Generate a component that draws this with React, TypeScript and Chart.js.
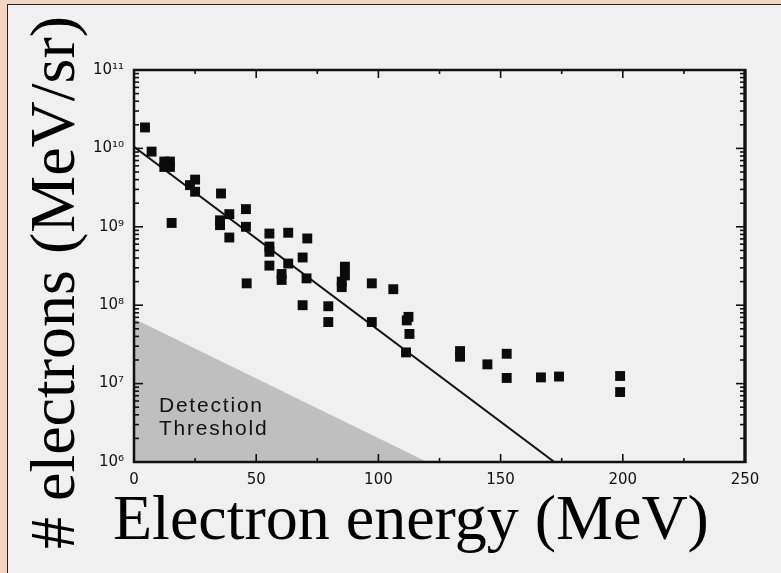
import React, { useEffect, useRef } from "react";
import { Chart, registerables } from "chart.js";

Chart.register(...registerables);

// ---- data ----
const energyMeV: number[] = [
  4.5, 7.2, 12.4, 14.7, 12.4, 14.7, 15.4, 22.9, 25.0, 25.0, 35.6, 35.2, 35.2,
  39.0, 39.0, 45.8, 45.8, 46.1, 55.4, 55.4, 55.4, 55.4, 63.1, 63.1, 60.4, 60.4,
  69.0, 70.6, 70.9, 69.0, 79.5, 79.5, 86.3, 86.3, 85.0, 85.0, 97.3, 97.3, 106.1,
  111.6, 112.3, 112.7, 111.3, 133.4, 133.4, 144.6, 152.5, 152.5, 166.5, 173.9,
  198.9, 198.9,
];
const electrons: number[] = [
  1.85e10, 9.1e9, 6.8e9, 6.8e9, 5.8e9, 5.8e9, 1.12e9, 3.4e9, 4.0e9, 2.8e9,
  2.66e9, 1.21e9, 1.05e9, 1.45e9, 7.3e8, 1.68e9, 1.0e9, 1.9e8, 8.2e8, 5.6e8,
  4.8e8, 3.2e8, 8.4e8, 3.4e8, 2.5e8, 2.1e8, 4.06e8, 2.2e8, 7.1e8, 1.0e8, 9.7e7,
  6.1e7, 3.1e8, 2.4e8, 2.0e8, 1.7e8, 1.9e8, 6.1e7, 1.6e8, 6.4e7, 7.1e7, 4.3e7,
  2.5e7, 2.6e7, 2.2e7, 1.76e7, 2.4e7, 1.18e7, 1.2e7, 1.23e7, 1.25e7, 7.8e6,
];
const fitLineX: number[] = [0, 172];
const fitLineY: number[] = [1.05e10, 1e6];
const thresholdX: number[] = [0, 120];
const thresholdY: number[] = [6.7e7, 1e6];
const thresholdLabel: string[] = ["Detection", "Threshold"];

const xMin = 0;
const xMax = 250;
const xStep = 50;
const xMinorTicks: number[] = [25, 75, 125, 175, 225];
const xMajorTicks: number[] = [50, 100, 150, 200];
const yMin = 1e6;
const yMax = 1e11;
const yDecades: number[] = [1e6, 1e7, 1e8, 1e9, 1e10, 1e11];

const xTitle = "Electron energy (MeV)";
const yTitle = "# electrons (MeV/sr)";

const SUP = "⁰¹²³⁴⁵⁶⁷⁸⁹";
const supNum = (n: number) =>
  String(n)
    .split("")
    .map((d) => SUP[Number(d)])
    .join("");

const decorPlugin = {
  id: "decor",
  afterDatasetsDraw(chart: any) {
    const { ctx, chartArea } = chart;
    const { left, right, top, bottom } = chartArea;
    const x = chart.scales.x;
    const y = chart.scales.y;
    ctx.save();
    // threshold label
    ctx.fillStyle = "#111";
    ctx.font = '21px "Liberation Sans", Arial, sans-serif';
    (ctx as any).letterSpacing = "1.8px";
    ctx.textAlign = "left";
    ctx.textBaseline = "alphabetic";
    ctx.fillText(thresholdLabel[0], x.getPixelForValue(10.2), y.getPixelForValue(4.33e6));
    ctx.fillText(thresholdLabel[1], x.getPixelForValue(10.2), y.getPixelForValue(2.19e6));
    (ctx as any).letterSpacing = "0px";

    // tick marks (inward)
    ctx.strokeStyle = "#111";
    ctx.lineWidth = 1.6;
    const seg = (x1: number, y1: number, x2: number, y2: number) => {
      ctx.beginPath();
      ctx.moveTo(x1, y1);
      ctx.lineTo(x2, y2);
      ctx.stroke();
    };
    for (const v of xMajorTicks) {
      const px = x.getPixelForValue(v);
      seg(px, bottom, px, bottom - 8);
      seg(px, top, px, top + 8);
    }
    for (const v of xMinorTicks) {
      const px = x.getPixelForValue(v);
      seg(px, bottom, px, bottom - 4);
      seg(px, top, px, top + 4);
    }
    for (let i = 0; i < yDecades.length; i++) {
      const d = yDecades[i];
      const py = y.getPixelForValue(d);
      seg(left, py, left + 9, py);
      seg(right, py, right - 9, py);
      if (i < yDecades.length - 1) {
        for (let m = 2; m <= 9; m++) {
          const pm = y.getPixelForValue(d * m);
          seg(left, pm, left + 5, pm);
          seg(right, pm, right - 5, pm);
        }
      }
    }
    // frame
    ctx.lineWidth = 2.5;
    ctx.strokeRect(left, top, right - left, bottom - top);
    ctx.lineWidth = 3.2;
    seg(right, top - 1, right, bottom + 1);
    ctx.restore();
  },
  afterDraw(chart: any) {
    const { ctx } = chart;
    ctx.save();
    ctx.fillStyle = "#000";
    ctx.font = '64px "Liberation Serif", "Times New Roman", serif';
    ctx.textAlign = "left";
    ctx.textBaseline = "alphabetic";
    ctx.fillText(xTitle, 113, 539);
    ctx.translate(74, 549);
    ctx.rotate(-Math.PI / 2);
    ctx.fillText(yTitle, 0, 0);
    ctx.restore();
  },
};

export default function App() {
  const canvasRef = useRef<HTMLCanvasElement | null>(null);

  useEffect(() => {
    if (!canvasRef.current) return;
    const points = energyMeV.map((e, i) => ({ x: e, y: electrons[i] }));
    const fit = fitLineX.map((e, i) => ({ x: e, y: fitLineY[i] }));
    const thr = thresholdX.map((e, i) => ({ x: e, y: thresholdY[i] }));
    const tickFont = { family: '"DejaVu Sans", sans-serif', size: 15 };

    const chart = new Chart(canvasRef.current, {
      type: "scatter",
      data: {
        datasets: [
          {
            label: "data",
            data: points,
            pointStyle: "rect",
            pointRadius: 7,
            pointBackgroundColor: "#0b0b0b",
            pointBorderWidth: 0,
            showLine: false,
            order: 0,
          } as any,
          {
            label: "fit",
            data: fit,
            showLine: true,
            borderColor: "#111",
            borderWidth: 2,
            pointRadius: 0,
            fill: false,
            order: 1,
          } as any,
          {
            label: "threshold",
            data: thr,
            showLine: true,
            borderWidth: 0,
            borderColor: "rgba(0,0,0,0)",
            backgroundColor: "#bfbfbf",
            pointRadius: 0,
            fill: "start",
            order: 2,
          } as any,
        ],
      },
      options: {
        responsive: false,
        animation: false,
        devicePixelRatio: 1,
        layout: { padding: { top: 70, right: 36, left: 0, bottom: 0 } },
        plugins: {
          legend: { display: false },
          tooltip: { enabled: false },
        },
        scales: {
          x: {
            type: "linear",
            position: "bottom",
            min: xMin,
            max: xMax,
            ticks: {
              stepSize: xStep,
              padding: 9,
              color: "#111",
              font: tickFont,
              maxRotation: 0,
            },
            grid: { display: false, drawTicks: false },
            border: { display: false },
            afterFit: (s: any) => {
              s.height = 111;
            },
          },
          y: {
            type: "logarithmic",
            min: yMin,
            max: yMax,
            ticks: {
              autoSkip: false,
              padding: 10,
              color: "#111",
              font: tickFont,
              callback: (v: any) => {
                const l = Math.log10(Number(v));
                if (Math.abs(l - Math.round(l)) < 1e-9) return "10" + supNum(Math.round(l));
                return "";
              },
            },
            grid: { display: false, drawTicks: false },
            border: { display: false },
            afterFit: (s: any) => {
              s.width = 134;
            },
          },
        },
      } as any,
      plugins: [decorPlugin],
    });
    return () => chart.destroy();
  }, []);

  return (
    <div
      style={{
        position: "absolute",
        left: 0,
        top: 0,
        width: 781,
        height: 573,
        background: "#f2d8c4",
        overflow: "hidden",
      }}
    >
      <div
        style={{
          position: "absolute",
          left: 7,
          top: 4,
          width: 780,
          height: 575,
          background: "#f0f0f0",
          borderLeft: "1.5px solid #222",
          borderTop: "1.5px solid #222",
        }}
      />
      <canvas
        ref={canvasRef}
        width={781}
        height={573}
        style={{ position: "absolute", left: 0, top: 0, width: 781, height: 573 }}
      />
    </div>
  );
}
